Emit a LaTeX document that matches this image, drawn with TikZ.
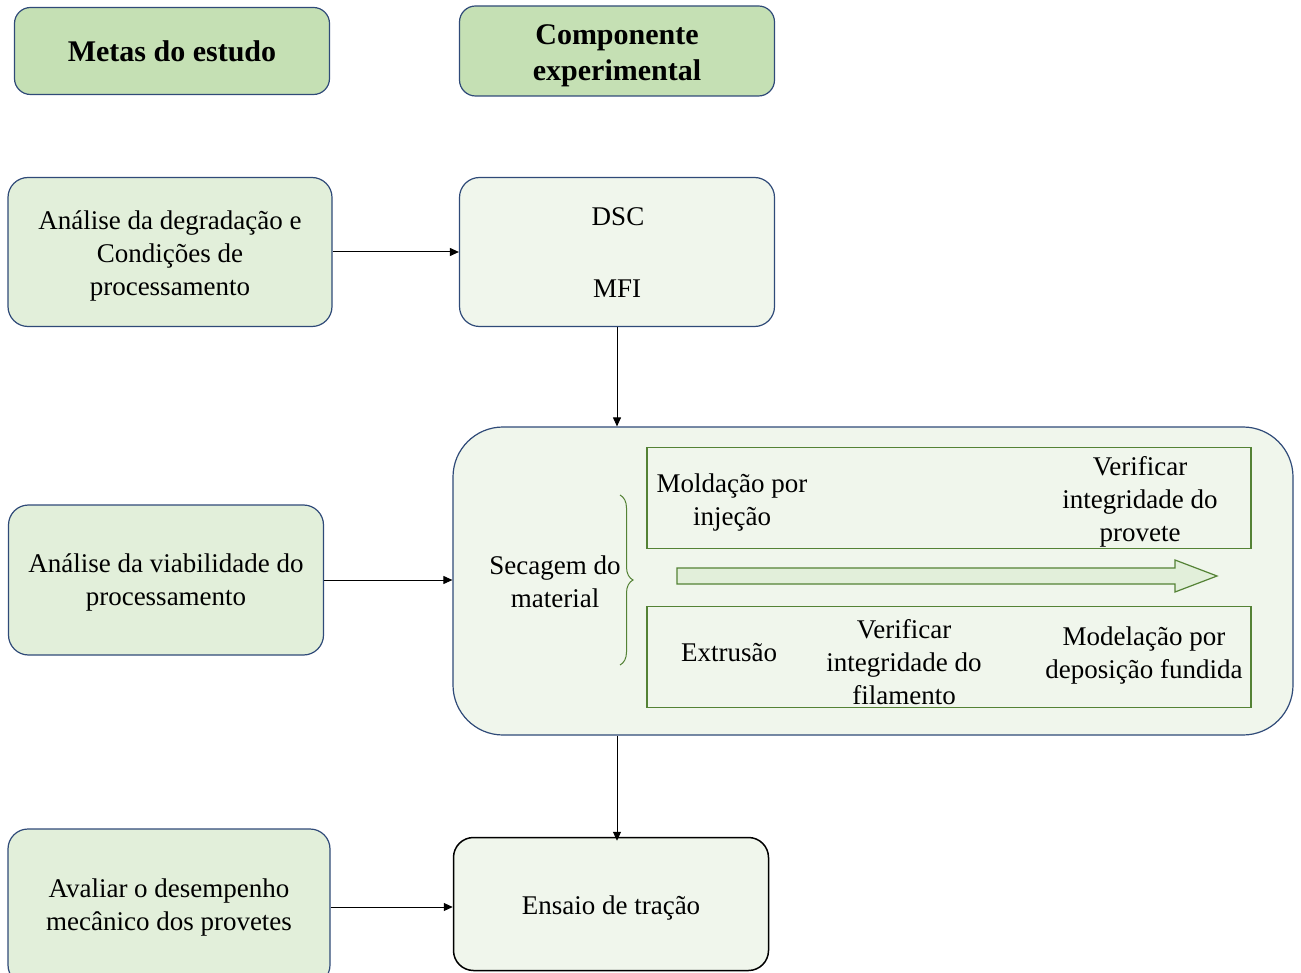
\documentclass[tikz,border=0pt]{standalone}
\usepackage{fontspec}
\setmainfont{Liberation Serif}
\usepackage{tikz}
\usetikzlibrary{positioning}
\usetikzlibrary{arrows.meta}
\usetikzlibrary{decorations.pathreplacing}
\definecolor{headgreen}{HTML}{C5E0B4}
\definecolor{goalgreen}{HTML}{E2EFDA}
\definecolor{palegreen}{HTML}{F0F6EC}
\definecolor{navyline}{HTML}{2F4A78}
\definecolor{darkgreen}{HTML}{548235}

\begin{document}
\begin{tikzpicture}[x=1pt,y=-1pt,on grid,auto,
   font=\fontsize{27}{33}\selectfont,
   headbox/.style={draw=navyline,line width=1.2pt,fill=headgreen,rounded corners=16pt,
      minimum width=315pt,inner sep=0pt,align=center,font=\fontsize{30}{36}\selectfont\bfseries},
   goalbox/.style={draw=navyline,line width=1.2pt,fill=goalgreen,rounded corners=20pt,
      inner sep=0pt,align=center},
   testbox/.style={draw=navyline,line width=1.2pt,fill=palegreen,rounded corners=20pt,
      minimum width=315pt,inner sep=0pt,align=center},
   lane/.style={draw=darkgreen,line width=1.2pt,minimum width=604pt,minimum height=101pt,inner sep=0pt},
   link/.style={-{Triangle[length=9pt,width=8pt]},line width=1pt}]
   \path[use as bounding box] (0,0) rectangle (1301,973);
   \clip (0,0) rectangle (1301,973);

   % column headers
   \node[headbox,minimum height=87pt] (metas) at (172,51) {Metas do estudo};
   \node[headbox,minimum height=90pt] (comp) [right=445pt of metas] {};
   \node[align=center,font=\fontsize{30}{36}\selectfont\bfseries] (comp_t) [below=5pt of comp] {Componente\\experimental};

   % study goals
   \node[goalbox,minimum width=324pt,minimum height=149pt] (degr) at (170,252) {};
   \node[align=center] (degr_t) at (170,256) {Análise da degradação e\\Condições de\\processamento};
   \node[goalbox,minimum width=315pt,minimum height=150pt] (viab) at (166,580) {};
   \node[align=center] (viab_t) at (166,582) {Análise da viabilidade do\\processamento};
   \node[goalbox,minimum width=322pt,minimum height=156pt] (aval) at (169,907) {};
   \node[align=center] (aval_t) at (169,908) {Avaliar o desempenho\\mecânico dos provetes};

   % experimental part
   \node[testbox,minimum height=149pt] (dsc) [right=447pt of degr] {};
   \node (dsc_t) at (618,217) {DSC};
   \node (mfi_t) at (617,289) {MFI};
   \node[testbox,minimum width=840pt,minimum height=308pt,rounded corners=50pt] (proc) at (873,581) {};
   \node[draw=black,line width=1.5pt,fill=palegreen,rounded corners=20pt,minimum width=315pt,
      minimum height=133pt] (ensaio) at (611,904) {};
   \node (ensaio_t) at (611,908) {Ensaio de tração};

   \node[align=center] (seca) at (555,582) {Secagem do\\material};
   \draw[darkgreen,line width=1pt,decorate,decoration={brace,amplitude=13pt}] (620,495) -- (620,665);

   \node[lane] (inj) at (949,498) {};
   \node[lane] (ext) at (949,657) {};
   \node[align=center] (mold) at (732,503) {Moldação por\\injeção};
   \node[align=center] (verp) at (1140,502) {Verificar\\integridade do\\provete};
   \node (extr) at (729,653) {Extrusão};
   \node[align=center] (verf) at (904,662) {Verificar\\integridade do\\filamento};
   \node[align=center] (fdm) at (1144,656) {Modelação por\\deposição fundida};
   \draw[darkgreen,line width=1.2pt,fill=goalgreen] (677,568) -- (1175,568) -- (1175,560) -- (1217,576)
      -- (1175,592) -- (1175,584) -- (677,584) -- cycle;

   \path[link]
   (degr.east) edge (dsc.west)
   (viab.east) edge (viab.east -| proc.west)
   (aval.east) edge (aval.east -| ensaio.west)
   (dsc.south) edge (dsc.south |- proc.north)
   (proc.south -| dsc) edge ([yshift=-4pt]ensaio.north -| dsc);
\end{tikzpicture}
\end{document}
